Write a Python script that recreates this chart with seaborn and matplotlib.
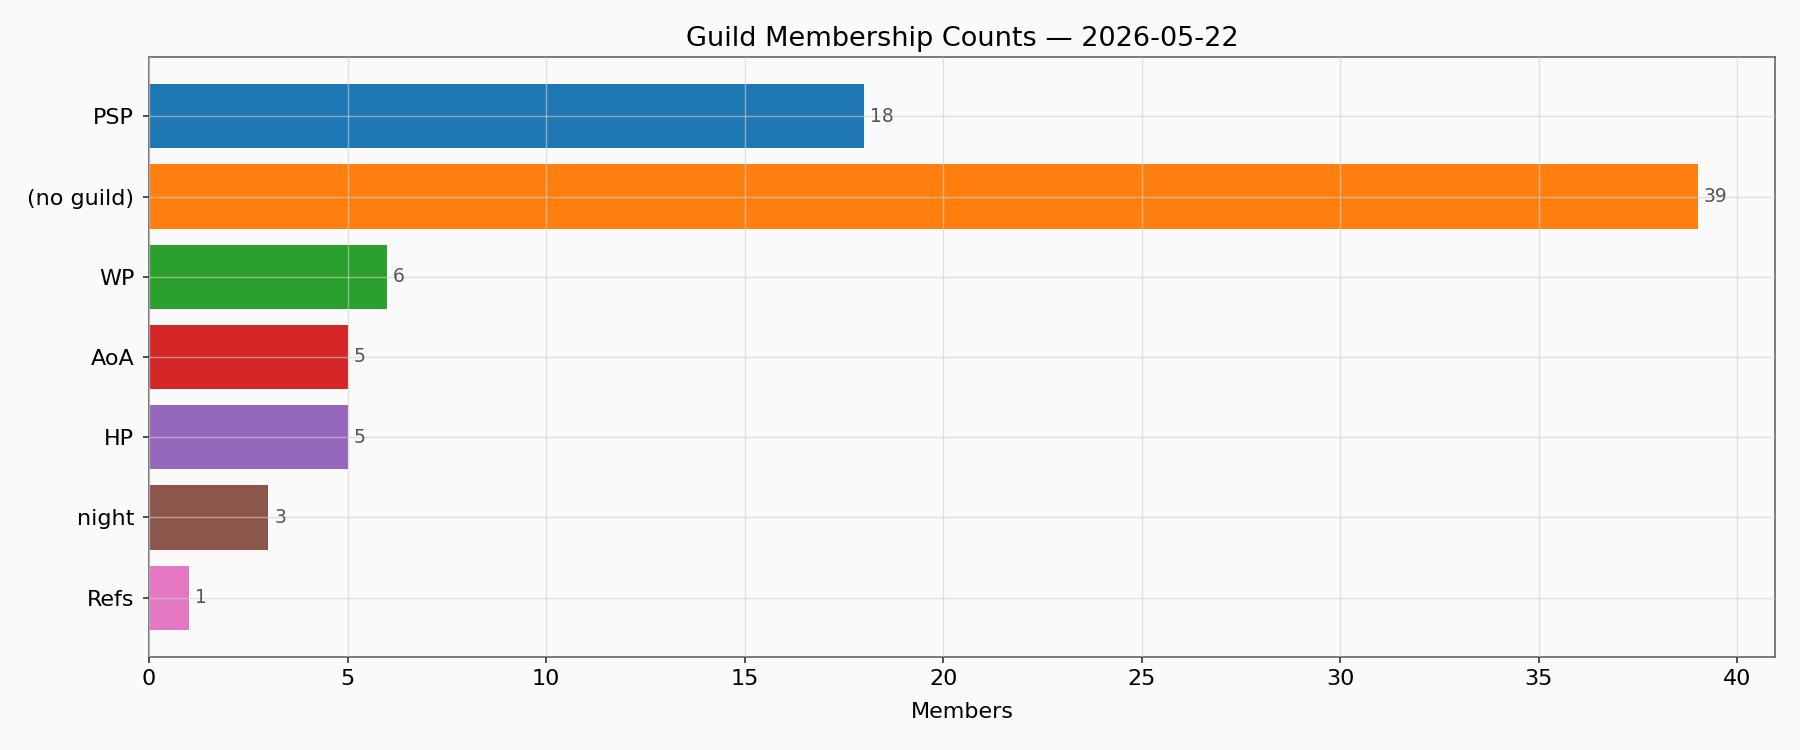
import matplotlib
matplotlib.use("Agg")
import matplotlib.pyplot as plt
import seaborn as sns
import pandas as pd

guilds = ["PSP", "(no guild)", "WP", "AoA", "HP", "night", "Refs"]
members = [18, 39, 6, 5, 5, 3, 1]
title = "Guild Membership Counts \u2014 2026-05-22"

sns.set_style("whitegrid")
plt.rcParams["font.family"] = ["DejaVu Sans"]
plt.rcParams["text.color"] = "black"
plt.rcParams["axes.labelcolor"] = "black"

df = pd.DataFrame({"guild": guilds, "members": members})
colors = sns.color_palette("tab10", len(guilds))

fig = plt.figure(figsize=(18, 7.5), dpi=100, facecolor="#fafafa")
ax = fig.add_axes([0.0828, 0.124, 0.9033, 0.8])
ax.set_facecolor("#fafafa")
sns.barplot(data=df, x="members", y="guild", hue="guild", palette=colors,
            orient="h", width=0.8, saturation=1, legend=False, linewidth=0, ax=ax)
ax.set_axisbelow(False)
ax.grid(True, color="#d0d0d0", alpha=0.6, linewidth=1)
ax.set_xlim(0, 40.95)
ax.set_ylim(len(guilds) - 1 + 0.74, -0.74)
for spine in ax.spines.values():
    spine.set_visible(True)
    spine.set_color("#666666")
    spine.set_linewidth(1.2)
ax.tick_params(axis="both", which="both", length=4.2, width=1.2, color="#333333",
               labelsize=16, labelcolor="black", bottom=True, left=True, pad=4.5)
ax.tick_params(axis="y", pad=6.5)
for i, v in enumerate(members):
    ax.text(v + 0.15, i, str(v), va="center", ha="left", fontsize=13.5, color="#555555")
ax.set_xlabel("Members", fontsize=16, color="black", labelpad=9)
ax.set_ylabel("")
ax.set_title(title, fontsize=19.5, pad=8, color="black")
fig.savefig("out.png", dpi=100, facecolor=fig.get_facecolor())
